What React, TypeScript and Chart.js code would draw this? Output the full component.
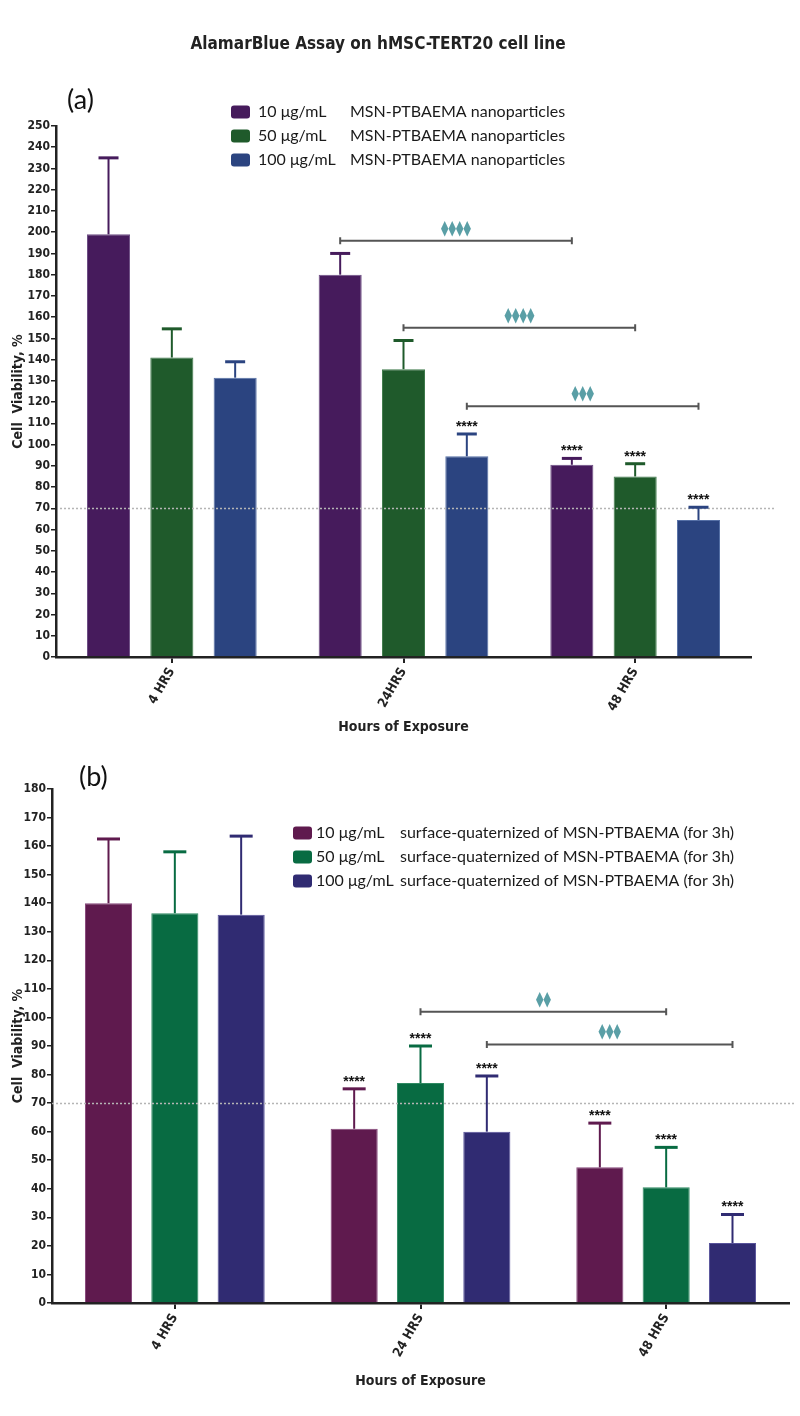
import React, { useEffect, useRef } from 'react';
import { Chart, registerables } from 'chart.js';
Chart.register(...registerables);

// ---------- DATA ----------
const titleText = 'AlamarBlue Assay on hMSC-TERT20 cell line';

const categoriesA = ['4 HRS', '24HRS', '48 HRS'];
const concLabelsA = ['10 μg/mL', '50 μg/mL', '100 μg/mL'];
const legendRestA = 'MSN-PTBAEMA nanoparticles';
const valuesA10 = [199, 180, 90.5];
const valuesA50 = [141, 135.5, 85];
const valuesA100 = [131.5, 94.5, 64.5];
const errA10 = [36, 10, 3];
const errA50 = [13.5, 13.5, 6];
const errA100 = [7.5, 10.5, 6];
const starsA = [[2, 1], [0, 2], [1, 2], [2, 2]]; // [series, category]
const bracketsA = [
  { series: 0, from: 1, to: 2, value: 196, label: '⧫⧫⧫⧫' },
  { series: 1, from: 1, to: 2, value: 155, label: '⧫⧫⧫⧫' },
  { series: 2, from: 1, to: 2, value: 118, label: '⧫⧫⧫' },
];

const categoriesB = ['4 HRS', '24 HRS', '48 HRS'];
const concLabelsB = ['10 μg/mL', '50 μg/mL', '100 μg/mL'];
const legendRestB = 'surface-quaternized of MSN-PTBAEMA (for 3h)';
const valuesB10 = [140, 61, 47.5];
const valuesB50 = [136.5, 77, 40.5];
const valuesB100 = [136, 60, 21];
const errB10 = [22.5, 14, 15.5];
const errB50 = [21.5, 13, 14];
const errB100 = [27.5, 19.5, 10];
const starsB = [[0, 1], [1, 1], [2, 1], [0, 2], [1, 2], [2, 2]];
const bracketsB = [
  { series: 1, from: 1, to: 2, value: 102, label: '⧫⧫' },
  { series: 2, from: 1, to: 2, value: 90.5, label: '⧫⧫⧫' },
];

const refValue = 70;
const yMaxA = 250;
const yMaxB = 180;
const yStep = 10;

// ---------- STYLE ----------
const NARROW = "'Liberation Sans Narrow', 'DejaVu Sans Condensed', 'Liberation Sans', sans-serif";
const LEGEND_FONT = "Lato, 'Open Sans', sans-serif";
const colorsA = ['#461b5c', '#1f5a2b', '#2b4480'];
const bordersA = ['#6e4f85', '#3f7a4b', '#5670a6'];
const colorsB = ['#5f1a4e', '#086b42', '#302b72'];
const bordersB = ['#86467a', '#2f8a62', '#57529a'];

type PanelCfg = {
  errs: number[][];
  stars: number[][];
  brackets: { series: number; from: number; to: number; value: number; label: string }[];
  concLabels: string[];
  legendRest: string;
  legendSquareX: number;
  legendConcX: number;
  legendRestX: number;
  legendRowsY: number[];
  legendFontSize: number;
  panelLabel: string;
  panelLabelX: number;
  panelLabelY: number;
  refStart: number;
  refEnd: number;
  capW: number;
  title?: { text: string; x: number; y: number };
};

function overlay(cfg: PanelCfg) {
  return {
    id: 'overlay',
    afterDatasetsDraw(chart: any) {
      const ctx: CanvasRenderingContext2D = chart.ctx;
      const ys = chart.scales.y;
      ctx.save();
      // reference dotted line
      ctx.strokeStyle = '#b5b5b5';
      ctx.lineWidth = 1.5;
      ctx.setLineDash([2, 2]);
      const ry = Math.round(ys.getPixelForValue(refValue)) + 0.5;
      ctx.beginPath();
      ctx.moveTo(cfg.refStart, ry);
      ctx.lineTo(cfg.refEnd, ry);
      ctx.stroke();
      ctx.setLineDash([]);

      // error bars
      chart.data.datasets.forEach((ds: any, i: number) => {
        const meta = chart.getDatasetMeta(i);
        meta.data.forEach((bar: any, j: number) => {
          const v = ds.data[j];
          const e = cfg.errs[i][j];
          const y0 = ys.getPixelForValue(v);
          const y1 = ys.getPixelForValue(v + e);
          ctx.strokeStyle = ds.backgroundColor;
          ctx.lineWidth = 2;
          ctx.beginPath();
          ctx.moveTo(bar.x, y0);
          ctx.lineTo(bar.x, y1);
          ctx.stroke();
          ctx.lineWidth = 3;
          ctx.beginPath();
          ctx.moveTo(bar.x - cfg.capW / 2, y1);
          ctx.lineTo(bar.x + cfg.capW / 2, y1);
          ctx.stroke();
        });
      });

      // stars
      ctx.fillStyle = '#111';
      ctx.font = `bold 14px 'Liberation Sans', sans-serif`;
      ctx.textAlign = 'center';
      ctx.textBaseline = 'alphabetic';
      cfg.stars.forEach(([i, j]) => {
        const bar = chart.getDatasetMeta(i).data[j];
        const v = chart.data.datasets[i].data[j] + cfg.errs[i][j];
        const y = ys.getPixelForValue(v);
        ctx.fillText('****', bar.x, y - 3);
      });

      // brackets
      cfg.brackets.forEach((b) => {
        const meta = chart.getDatasetMeta(b.series);
        const x1 = meta.data[b.from].x;
        const x2 = meta.data[b.to].x;
        const y = ys.getPixelForValue(b.value);
        ctx.strokeStyle = '#555';
        ctx.lineWidth = 2;
        ctx.beginPath();
        ctx.moveTo(x1, y);
        ctx.lineTo(x2, y);
        ctx.moveTo(x1, y - 3.5);
        ctx.lineTo(x1, y + 3.5);
        ctx.moveTo(x2, y - 3.5);
        ctx.lineTo(x2, y + 3.5);
        ctx.stroke();
        ctx.fillStyle = '#5a9fa6';
        ctx.font = `15px 'DejaVu Sans', sans-serif`;
        ctx.textAlign = 'center';
        ctx.textBaseline = 'middle';
        const glyphs = Array.from(b.label);
        const step = 7.5;
        const mid = (x1 + x2) / 2;
        glyphs.forEach((g, k) => {
          ctx.fillText(g, mid + (k - (glyphs.length - 1) / 2) * step, y - 12);
        });
      });

      // legend
      ctx.textBaseline = 'middle';
      ctx.textAlign = 'left';
      ctx.font = `${cfg.legendFontSize}px ${LEGEND_FONT}`;
      chart.data.datasets.forEach((ds: any, i: number) => {
        const cy = cfg.legendRowsY[i];
        ctx.fillStyle = ds.backgroundColor;
        const w = 19, h = 13, x = cfg.legendSquareX, y = cy - h / 2;
        ctx.beginPath();
        (ctx as any).roundRect ? (ctx as any).roundRect(x, y, w, h, 3) : ctx.rect(x, y, w, h);
        ctx.fill();
        ctx.fillStyle = '#1a1a1a';
        ctx.fillText(cfg.concLabels[i], cfg.legendConcX, cy);
        ctx.fillText(cfg.legendRest, cfg.legendRestX, cy);
      });

      // panel label
      ctx.font = `27px ${LEGEND_FONT}`;
      ctx.fillStyle = '#111';
      ctx.fillText(cfg.panelLabel, cfg.panelLabelX, cfg.panelLabelY);

      if (cfg.title) {
        ctx.font = `bold 17px ${NARROW}`;
        ctx.textAlign = 'center';
        ctx.fillStyle = '#222';
        ctx.fillText(cfg.title.text, cfg.title.x, cfg.title.y);
      }
      ctx.restore();
    },
  };
}

function makeConfig(
  labels: string[],
  series: number[][],
  colors: string[],
  borders: string[],
  names: string[],
  yMax: number,
  geo: { yWidth: number; xHeight: number; pad: any; titlePadBottom: number; catPct: number; barPct: number; tickFont: number },
  cfg: PanelCfg
) {
  return {
    type: 'bar' as const,
    data: {
      labels,
      datasets: series.map((d, i) => ({
        label: names[i],
        data: d,
        backgroundColor: colors[i],
        borderColor: borders[i],
        borderWidth: 1,
        categoryPercentage: geo.catPct,
        barPercentage: geo.barPct,
      })),
    },
    options: {
      responsive: false,
      animation: false,
      devicePixelRatio: 1,
      layout: { padding: geo.pad },
      plugins: { legend: { display: false }, tooltip: { enabled: false } },
      scales: {
        x: {
          grid: { offset: false, drawOnChartArea: false, color: '#222', tickLength: 6, lineWidth: 2 },
          border: { color: '#222', width: 2.5 },
          ticks: {
            color: '#222',
            font: { family: NARROW, size: 13, weight: 'bold' },
            minRotation: 60,
            maxRotation: 60,
            autoSkip: false,
            padding: 2,
          },
          title: {
            display: true,
            text: 'Hours of Exposure',
            color: '#222',
            font: { family: NARROW, size: 14, weight: 'bold' },
            padding: { top: 0, bottom: geo.titlePadBottom },
          },
          afterFit: (s: any) => {
            s.height = geo.xHeight;
          },
        },
        y: {
          min: 0,
          max: yMax,
          grid: { drawOnChartArea: false, color: '#222', tickLength: 5, lineWidth: 1.5 },
          border: { color: '#222', width: 2.5 },
          ticks: {
            stepSize: yStep,
            autoSkip: false,
            color: '#222',
            font: { family: NARROW, size: geo.tickFont, weight: 'bold' },
            padding: 1,
          },
          title: {
            display: true,
            text: 'Cell  Viability, %',
            color: '#222',
            font: { family: NARROW, size: 14, weight: 'bold' },
            padding: { top: 10, bottom: 0 },
          },
          afterFit: (s: any) => {
            s.width = geo.yWidth;
          },
        },
      },
    },
    plugins: [overlay(cfg)],
  };
}

function ChartCanvas({ config, width, height, top }: { config: () => any; width: number; height: number; top: number }) {
  const ref = useRef<HTMLCanvasElement | null>(null);
  useEffect(() => {
    if (!ref.current) return;
    const chart = new Chart(ref.current, config());
    return () => chart.destroy();
  }, []);
  return (
    <canvas
      ref={ref}
      width={width}
      height={height}
      style={{ position: 'absolute', left: 0, top, width, height }}
    />
  );
}

export default function App() {
  const cfgA = () =>
    makeConfig(
      categoriesA,
      [valuesA10, valuesA50, valuesA100],
      colorsA,
      bordersA,
      concLabelsA,
      yMaxA,
      { yWidth: 56, xHeight: 90, pad: { left: 0, right: 49, top: 126, bottom: 13 }, titlePadBottom: 11, catPct: 0.82, barPct: 0.68, tickFont: 12 },
      {
        errs: [errA10, errA50, errA100],
        stars: starsA,
        brackets: bracketsA,
        concLabels: concLabelsA,
        legendRest: legendRestA,
        legendSquareX: 231,
        legendConcX: 258,
        legendRestX: 350,
        legendRowsY: [112, 136, 160],
        legendFontSize: 16,
        panelLabel: '(a)',
        panelLabelX: 67,
        panelLabelY: 100,
        refStart: 60,
        refEnd: 776,
        capW: 20,
        title: { text: titleText, x: 378, y: 45 },
      }
    );
  const cfgB = () =>
    makeConfig(
      categoriesB,
      [valuesB10, valuesB50, valuesB100],
      colorsB,
      bordersB,
      concLabelsB,
      yMaxB,
      { yWidth: 52, xHeight: 96, pad: { left: 0, right: 11, top: 29, bottom: 17 }, titlePadBottom: 9, catPct: 0.81, barPct: 0.71, tickFont: 12 },
      {
        errs: [errB10, errB50, errB100],
        stars: starsB,
        brackets: bracketsB,
        concLabels: concLabelsB,
        legendRest: legendRestB,
        legendSquareX: 293,
        legendConcX: 316,
        legendRestX: 400,
        legendRowsY: [73, 97, 121],
        legendFontSize: 16,
        panelLabel: '(b)',
        panelLabelX: 79,
        panelLabelY: 17,
        refStart: 52,
        refEnd: 794,
        capW: 23,
      }
    );
  return (
    <div style={{ position: 'absolute', left: 0, top: 0, width: 800, height: 1416, background: '#fff' }}>
      <ChartCanvas config={cfgA} width={800} height={760} top={0} />
      <ChartCanvas config={cfgB} width={800} height={656} top={760} />
    </div>
  );
}
